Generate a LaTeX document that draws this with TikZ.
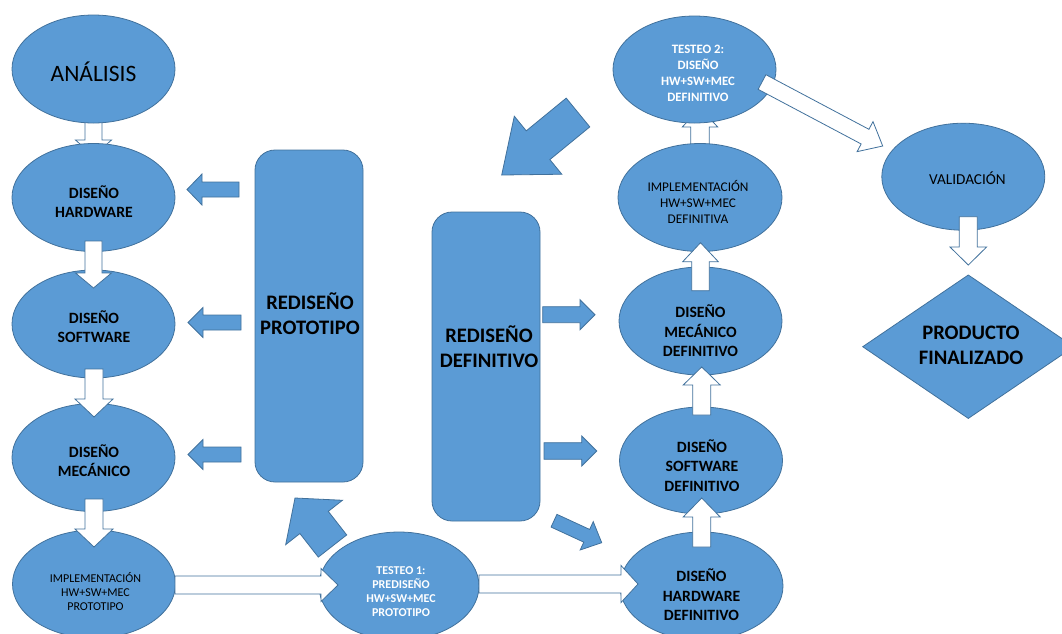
\documentclass[tikz,border=0pt]{standalone}
\usepackage{fontspec}
\setmainfont{Carlito}
\usetikzlibrary{shapes.geometric,calc}
\definecolor{ofill}{HTML}{5B9BD5}
\definecolor{oline}{HTML}{41719C}
\newcommand\fsz[2]{\fontsize{#1}{#2}\selectfont}
% block arrow: style, tail, tip, shaft half-width, head half-width, head length
\newcommand\blockarrow[6]{%
  \coordinate (ba-t) at (#2);
  \coordinate (ba-p) at (#3);
  \coordinate (ba-b) at ($(ba-p)!#6!(ba-t)$);
  \draw[#1] ($(ba-t)!#4!90:(ba-p)$) -- ($(ba-b)!#4!90:(ba-p)$)
    -- ($(ba-b)!#5!90:(ba-p)$) -- (ba-p) -- ($(ba-b)!#5!-90:(ba-p)$)
    -- ($(ba-b)!#4!-90:(ba-p)$) -- ($(ba-t)!#4!-90:(ba-p)$) -- cycle;
}
\begin{document}
\begin{tikzpicture}[x=1pt,y=-1pt,
  ell/.style={ellipse, draw=oline, fill=ofill, line width=0.8pt, inner sep=0pt,
    minimum width=163pt, minimum height=108pt},
  rbox/.style={rectangle, rounded corners=20pt, draw=oline, fill=ofill,
    line width=0.8pt, inner sep=0pt, minimum width=108pt},
  wbar/.style={draw=oline, fill=white, line width=0.8pt, line join=miter},
  bbar/.style={draw=oline, fill=ofill, line width=0.8pt, line join=miter},
  txt/.style={align=center, inner sep=0pt, text=black},
  wtxt/.style={align=center, inner sep=0pt, text=white}]
\path[use as bounding box] (0,0) rectangle (1062,633);
\clip (0,0) rectangle (1062,633);

% arrows lying beneath the ellipses
\blockarrow{wbar}{93.5,115}{93.5,156}{8.5pt}{18pt}{16pt}
\blockarrow{wbar}{700,157}{700,108}{9.3pt}{17.7pt}{19pt}

% prototype column
\node[ell] (ana) at (93.5,69) {};
\node[ell] (hw) at (93.5,197.5) {};
\node[ell] (sw) at (93.5,324) {};
\node[ell] (mec) at (93.5,457.5) {};
\node[ell] (impl) at (94,584) {};
\node[ell, minimum width=160pt] (t1) at (399,586) {};
\node[rbox, minimum height=332pt] (rp) at (309,316) {};
\node[rbox, minimum height=309pt] (rd) at (486,366.5) {};

% definitive column
\node[ell, minimum height=107pt] (t2) at (694.5,69.5) {};
\node[ell, minimum width=164pt] (impld) at (700,197.5) {};
\node[ell] (mecd) at (700.5,321) {};
\node[ell, minimum height=107pt] (swd) at (701,460.5) {};
\node[ell] (hwd) at (701.5,586) {};
\node[ell, minimum height=107pt] (val) at (963.3,176.7) {};
\coordinate (prod) at (968.3,346.7);
\draw[draw=oline, fill=ofill, line width=0.8pt]
  ($(prod)+(0,-71.7)$) -- ($(prod)+(105.6,0)$) -- ($(prod)+(0,71.7)$)
  -- ($(prod)+(-105.6,0)$) -- cycle;

% texts
\node[txt, font=\fsz{23.5}{28}] (ana-t) at (93.5,72) {ANÁLISIS};
\node[txt, font=\bfseries\fsz{15.7}{19}] (hw-t) at (94,202) {DISEÑO\\HARDWARE};
\node[txt, font=\bfseries\fsz{15.7}{19}] (sw-t) at (94,327) {DISEÑO\\SOFTWARE};
\node[txt, font=\bfseries\fsz{15.7}{19}] (mec-t) at (94,461) {DISEÑO\\MECÁNICO};
\node[txt, font=\fsz{12}{14}] (impl-t) at (95.5,592) {IMPLEMENTACIÓN\\HW+SW+MEC\\PROTOTIPO};
\node[wtxt, font=\bfseries\fsz{12}{14}] (t1-t) at (401,592) {TESTEO 1:\\PREDISEÑO\\HW+SW+MEC\\PROTOTIPO};
\node[txt, font=\bfseries\fsz{20.6}{25}] (rp-t) at (310,313.5) {REDISEÑO\\PROTOTIPO};
\node[txt, font=\bfseries\fsz{20.6}{25}] (rd-t) at (489,346.5) {REDISEÑO\\DEFINITIVO};
\node[wtxt, font=\bfseries\fsz{12.8}{16}] (t2-t) at (698,73) {TESTEO 2:\\DISEÑO\\HW+SW+MEC\\DEFINITIVO};
\node[txt, font=\fsz{13.3}{16}] (impld-t) at (698,202) {IMPLEMENTACIÓN\\HW+SW+MEC\\DEFINITIVA};
\node[txt, font=\bfseries\fsz{15.7}{19.5}] (mecd-t) at (700.5,331) {DISEÑO\\MECÁNICO\\DEFINITIVO};
\node[txt, font=\bfseries\fsz{15.7}{19.5}] (swd-t) at (702,465.5) {DISEÑO\\SOFTWARE\\DEFINITIVO};
\node[txt, font=\bfseries\fsz{15.7}{19.5}] (hwd-t) at (701.5,595) {DISEÑO\\HARDWARE\\DEFINITIVO};
\node[txt, font=\fsz{15.2}{18}] (val-t) at (967.5,178) {VALIDACIÓN};
\node[txt, font=\bfseries\fsz{20.6}{25}] (prod-t) at (971,345) {PRODUCTO\\FINALIZADO};

% flow of the prototype stage
\blockarrow{wbar}{93.5,241}{93.5,288}{8.5pt}{18pt}{15pt}
\blockarrow{wbar}{94,369}{94,417}{9pt}{19pt}{18pt}
\blockarrow{wbar}{94,499}{94,547}{9pt}{19pt}{18pt}
\blockarrow{bbar}{239,189.5}{187,189.5}{7.5pt}{15.5pt}{15pt}
\blockarrow{bbar}{241,322.5}{188,322.5}{7.5pt}{15pt}{15pt}
\blockarrow{bbar}{241,454.5}{188,454.5}{7.5pt}{15pt}{15pt}
\blockarrow{bbar}{332.5,546}{295,498}{18pt}{36pt}{31pt}
\blockarrow{wbar}{175,585}{338,585}{9pt}{16.5pt}{17pt}
\blockarrow{wbar}{479,584}{638,584}{9pt}{18.5pt}{17pt}

% flow of the definitive stage
\blockarrow{bbar}{542.7,314.7}{595,314.7}{8pt}{15pt}{15pt}
\blockarrow{bbar}{544,451}{596.7,451}{8.3pt}{15pt}{15pt}
\blockarrow{bbar}{554,520.7}{601.7,542.7}{7pt}{15.6pt}{16.5pt}
\blockarrow{wbar}{701.7,547}{701.7,498}{9pt}{18.5pt}{19pt}
\blockarrow{wbar}{701.7,415}{701.7,367}{9pt}{18.5pt}{18pt}
\blockarrow{wbar}{700.5,290.7}{700.5,242.7}{8.8pt}{17.8pt}{19pt}
\blockarrow{bbar}{578,112.5}{501.7,175}{18.6pt}{37.5pt}{47pt}
\blockarrow{wbar}{762,82}{882.7,146}{8.3pt}{17pt}{20pt}
\blockarrow{wbar}{968.3,216.7}{968.3,265}{9pt}{18.3pt}{18pt}
\end{tikzpicture}
\end{document}
